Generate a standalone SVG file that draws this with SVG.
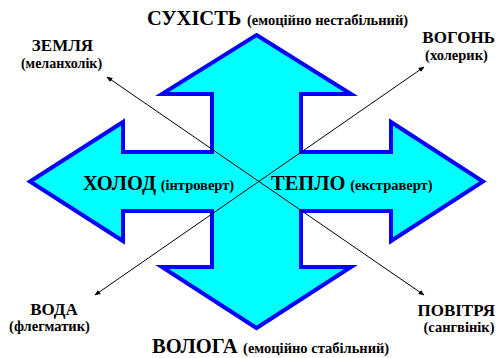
<svg xmlns="http://www.w3.org/2000/svg" width="497" height="358" viewBox="0 0 497 358">
<defs>
<marker id="ah" viewBox="0 0 10 10" refX="9" refY="5" markerWidth="6" markerHeight="6" orient="auto-start-reverse" markerUnits="userSpaceOnUse">
<path d="M0,1 L10,5 L0,9 z" fill="#000"/>
</marker>
</defs>
<rect width="497" height="358" fill="#fff"/>
<g id="cross">
<polygon points="256.5,35 351,94 301,94 301,152 391,152 391,122 483,181.5 391,241 391,211 301,211 301,267 351,267 256.5,328 162,267 212,267 212,211 123,211 123,241 30,181.5 123,122 123,152 212,152 212,94 162,94" fill="#00FFFF" stroke="#0000FF" stroke-width="4" stroke-linejoin="miter"/>
</g>
<g id="connectors" stroke="#000" stroke-width="1" fill="none" marker-start="url(#ah)" marker-end="url(#ah)">
<line x1="107" y1="77" x2="424" y2="295"/>
<line x1="95" y1="295" x2="424" y2="67"/>
</g>
<g font-family="Liberation Serif" font-weight="bold" fill="#000">
<g id="top">
<text x="147" y="25" font-size="20.5">СУХІСТЬ<tspan font-size="14.5" dx="2"> (емоційно нестабільний)</tspan></text>
</g>
<g id="bottom">
<text x="152" y="353" font-size="20.5">ВОЛОГА<tspan font-size="14.5" dx="2"> (емоційно стабільний)</tspan></text>
</g>
<g id="left">
<text x="83" y="190" font-size="20.5">ХОЛОД<tspan font-size="14.5" dx="1"> (інтроверт)</tspan></text>
</g>
<g id="right">
<text x="271" y="190" font-size="20.5">ТЕПЛО<tspan font-size="14.5" dx="1"> (екстраверт)</tspan></text>
</g>
<g id="earth" text-anchor="middle">
<text x="62.5" y="51" font-size="17">ЗЕМЛЯ</text>
<text x="61.5" y="68" font-size="14">(меланхолік)</text>
</g>
<g id="fire">
<text x="495" y="43" font-size="17" text-anchor="end">ВОГОНЬ</text>
<text x="456.5" y="60" font-size="14.5" text-anchor="middle">(холерик)</text>
</g>
<g id="water" text-anchor="middle">
<text x="54" y="315" font-size="17">ВОДА</text>
<text x="49.5" y="331" font-size="14.5">(флегматик)</text>
</g>
<g id="air">
<text x="495" y="316" font-size="17" text-anchor="end">ПОВІТРЯ</text>
<text x="459" y="332" font-size="14.5" text-anchor="middle">(сангвінік)</text>
</g>
</g>
</svg>
